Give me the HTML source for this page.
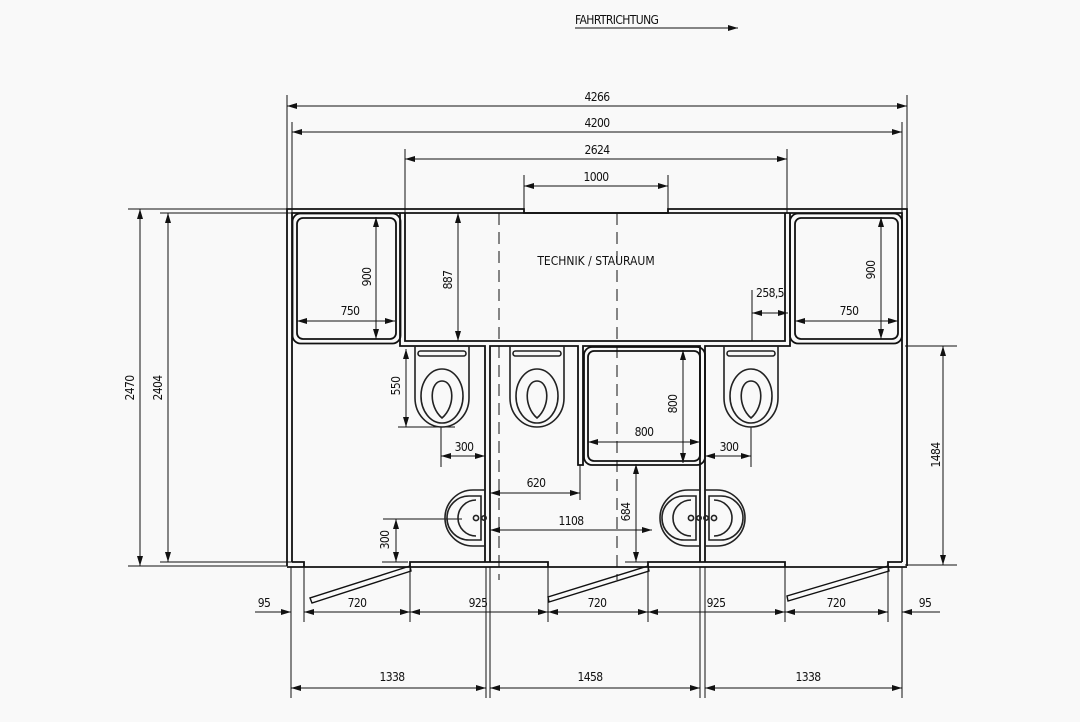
<!DOCTYPE html>
<html><head><meta charset="utf-8"><style>
html,body{margin:0;padding:0;background:#f9f9f9;}
svg{display:block}
text{font-family:"DejaVu Sans Condensed","Liberation Sans",sans-serif;font-size:12px;fill:#111;letter-spacing:-0.6px}
</style></head><body>
<svg width="1080" height="722" viewBox="0 0 1080 722" xmlns="http://www.w3.org/2000/svg">
<defs>
<marker id="a" viewBox="0 0 10 6" refX="10" refY="3" markerWidth="10" markerHeight="6" orient="auto-start-reverse" markerUnits="userSpaceOnUse"><path d="M0,0 L10,3 L0,6z" fill="#111"/></marker>
<g id="wc" fill="none" stroke="#222" stroke-width="1.6">
<path d="M-27,0 V52 A27,29 0 0 0 27,52 V0"/>
<rect x="-24" y="5" width="48" height="5" rx="2.5"/>
<ellipse cx="0" cy="50" rx="21" ry="27"/>
<path d="M0,72 C-14,60 -12,35 0,35 C12,35 14,60 0,72z"/>
</g>
<g id="sk" fill="none" stroke="#222" stroke-width="1.6">
<path d="M0,-28 H-12 A28,28 0 0 0 -12,28 H0"/>
<path d="M-4,-22 H-16 A22,22 0 0 0 -16,22 H-4 Z"/>
<path d="M-27,0 A18,18 0 0 1 -9,-18 M-9,18 A18,18 0 0 1 -27,0"/>
<circle cx="-9" cy="0" r="2.6"/><circle cx="-1" cy="0" r="2.2"/>
</g>
</defs>
<g stroke="#111" stroke-width="1" fill="none">
<!-- title -->
<line x1="575" y1="28" x2="738" y2="28" marker-end="url(#a)"/>
<!-- top dims -->
<line x1="287" y1="95" x2="287" y2="209"/><line x1="907" y1="95" x2="907" y2="209"/>
<line x1="287" y1="106" x2="907" y2="106" marker-start="url(#a)" marker-end="url(#a)"/>
<line x1="292" y1="122" x2="292" y2="213"/><line x1="902" y1="122" x2="902" y2="213"/>
<line x1="292" y1="132" x2="902" y2="132" marker-start="url(#a)" marker-end="url(#a)"/>
<line x1="405" y1="149" x2="405" y2="213"/><line x1="787" y1="149" x2="787" y2="213"/>
<line x1="405" y1="159" x2="787" y2="159" marker-start="url(#a)" marker-end="url(#a)"/>
<line x1="524" y1="175" x2="524" y2="213"/><line x1="668" y1="175" x2="668" y2="213"/>
<line x1="524" y1="186" x2="668" y2="186" marker-start="url(#a)" marker-end="url(#a)"/>
<!-- left dims -->
<line x1="128" y1="209" x2="287" y2="209"/><line x1="128" y1="566" x2="287" y2="566"/>
<line x1="140" y1="209" x2="140" y2="566" marker-start="url(#a)" marker-end="url(#a)"/>
<line x1="160" y1="213" x2="292" y2="213"/><line x1="160" y1="562" x2="292" y2="562"/>
<line x1="168" y1="213" x2="168" y2="562" marker-start="url(#a)" marker-end="url(#a)"/>
<!-- right 1484 -->
<line x1="905" y1="346" x2="957" y2="346"/><line x1="905" y1="565" x2="957" y2="565"/>
<line x1="943" y1="346" x2="943" y2="565" marker-start="url(#a)" marker-end="url(#a)"/>
<!-- inner dims -->
<line x1="376" y1="217" x2="376" y2="339" marker-start="url(#a)" marker-end="url(#a)"/>
<line x1="297" y1="321" x2="395" y2="321" marker-start="url(#a)" marker-end="url(#a)"/>
<line x1="458" y1="213" x2="458" y2="341" marker-start="url(#a)" marker-end="url(#a)"/>
<line x1="752" y1="290" x2="752" y2="341"/>
<line x1="752" y1="313" x2="788" y2="313" marker-start="url(#a)" marker-end="url(#a)"/>
<line x1="881" y1="217" x2="881" y2="339" marker-start="url(#a)" marker-end="url(#a)"/>
<line x1="795" y1="321" x2="898" y2="321" marker-start="url(#a)" marker-end="url(#a)"/>
<line x1="406" y1="349" x2="406" y2="427" marker-start="url(#a)" marker-end="url(#a)"/>
<line x1="398" y1="427" x2="455" y2="427"/>
<line x1="441" y1="427" x2="441" y2="467"/>
<line x1="441" y1="456" x2="485" y2="456" marker-start="url(#a)" marker-end="url(#a)"/>
<line x1="683" y1="350" x2="683" y2="463" marker-start="url(#a)" marker-end="url(#a)"/>
<line x1="588" y1="442" x2="700" y2="442" marker-start="url(#a)" marker-end="url(#a)"/>
<line x1="751" y1="427" x2="751" y2="467"/>
<line x1="705" y1="456" x2="751" y2="456" marker-start="url(#a)" marker-end="url(#a)"/>
<line x1="580" y1="465" x2="580" y2="500"/>
<line x1="490" y1="493" x2="580" y2="493" marker-start="url(#a)" marker-end="url(#a)"/>
<line x1="490" y1="530" x2="652" y2="530" marker-start="url(#a)" marker-end="url(#a)"/>
<line x1="636" y1="464" x2="636" y2="562" marker-start="url(#a)" marker-end="url(#a)"/>
<line x1="383" y1="519" x2="462" y2="519"/>
<line x1="396" y1="519" x2="396" y2="562" marker-start="url(#a)" marker-end="url(#a)"/>
<line x1="625" y1="562" x2="665" y2="562"/>
<line x1="382" y1="562" x2="408" y2="562"/>
<!-- bottom dims -->
<line x1="304" y1="567" x2="304" y2="622"/><line x1="410" y1="567" x2="410" y2="622"/>
<line x1="548" y1="567" x2="548" y2="622"/><line x1="648" y1="567" x2="648" y2="622"/>
<line x1="785" y1="567" x2="785" y2="622"/><line x1="888" y1="567" x2="888" y2="622"/>
<line x1="291" y1="567" x2="291" y2="698"/><line x1="902" y1="567" x2="902" y2="698"/>
<line x1="486" y1="567" x2="486" y2="698"/><line x1="490" y1="567" x2="490" y2="698"/>
<line x1="700" y1="567" x2="700" y2="698"/><line x1="705" y1="567" x2="705" y2="698"/>
<line x1="255" y1="612" x2="291" y2="612" marker-end="url(#a)"/>
<line x1="304" y1="612" x2="410" y2="612" marker-start="url(#a)" marker-end="url(#a)"/>
<line x1="410" y1="612" x2="548" y2="612" marker-start="url(#a)" marker-end="url(#a)"/>
<line x1="548" y1="612" x2="648" y2="612" marker-start="url(#a)" marker-end="url(#a)"/>
<line x1="648" y1="612" x2="785" y2="612" marker-start="url(#a)" marker-end="url(#a)"/>
<line x1="785" y1="612" x2="888" y2="612" marker-start="url(#a)" marker-end="url(#a)"/>
<line x1="940" y1="612" x2="902" y2="612" marker-end="url(#a)"/>
<line x1="291" y1="688" x2="486" y2="688" marker-start="url(#a)" marker-end="url(#a)"/>
<line x1="490" y1="688" x2="700" y2="688" marker-start="url(#a)" marker-end="url(#a)"/>
<line x1="705" y1="688" x2="902" y2="688" marker-start="url(#a)" marker-end="url(#a)"/>
<!-- dashed -->
<line x1="499" y1="213" x2="499" y2="580" stroke-dasharray="12,7"/>
<line x1="617" y1="213" x2="617" y2="580" stroke-dasharray="12,7"/>
</g>
<!-- walls -->
<g stroke="#111" stroke-width="1.8" fill="none">
<path d="M287,566 V209 H524 V213 H668 V209 H907 V566"/>
<path d="M292,562 V213 H902 V562"/>
<line x1="287" y1="567" x2="907" y2="567"/>
<path d="M292,562 H304 V567"/><path d="M410,567 V562 H548 V567"/><path d="M648,567 V562 H785 V567"/><path d="M888,567 V562 H902"/>
<!-- technik room -->
<path d="M400,213 V346 H485 V562 M490,562 V346 H578 V465 H583 V346 H700 V562 M705,562 V346 H790 V213"/>
<path d="M405,213 V341 H785 V213"/>
<!-- showers -->
<rect x="292.5" y="213.5" width="108" height="130" rx="8"/>
<rect x="297" y="218" width="99" height="121" rx="6"/>
<rect x="790" y="213.5" width="112" height="130" rx="8"/>
<rect x="795" y="218" width="103" height="121" rx="6"/>
<rect x="584" y="347" width="121" height="118" rx="8"/>
<rect x="588" y="351" width="112" height="110" rx="6"/>
<!-- doors -->
<path d="M410,566 L310,598 L312,603 L411,571z" stroke-width="1.4"/>
<path d="M648,566 L548,597 L549,602 L649,571z" stroke-width="1.4"/>
<path d="M888,566 L787,596 L788,601 L889,571z" stroke-width="1.4"/>
</g>
<use href="#wc" x="442" y="346"/>
<use href="#wc" x="537" y="346"/>
<use href="#wc" x="751" y="346"/>
<use href="#sk" x="485" y="518"/>
<use href="#sk" x="700" y="518"/>
<use href="#sk" transform="translate(705,518) scale(-1,1)"/>
<!-- labels -->
<text x="575" y="24">FAHRTRICHTUNG</text>
<g text-anchor="middle">
<text x="597" y="101">4266</text>
<text x="597" y="127">4200</text>
<text x="597" y="154">2624</text>
<text x="596" y="181">1000</text>
<text x="596" y="265" style="letter-spacing:0">TECHNIK / STAURAUM</text>
<text x="350" y="315">750</text>
<text x="849" y="315">750</text>
<text x="770" y="297">258,5</text>
<text x="464" y="451">300</text>
<text x="729" y="451">300</text>
<text x="644" y="436">800</text>
<text x="536" y="487">620</text>
<text x="571" y="525">1108</text>
<text x="264" y="607">95</text>
<text x="357" y="607">720</text>
<text x="478" y="607">925</text>
<text x="597" y="607">720</text>
<text x="716" y="607">925</text>
<text x="836" y="607">720</text>
<text x="925" y="607">95</text>
<text x="392" y="681">1338</text>
<text x="590" y="681">1458</text>
<text x="808" y="681">1338</text>
<text transform="translate(134,388) rotate(-90)">2470</text>
<text transform="translate(162,388) rotate(-90)">2404</text>
<text transform="translate(371,277) rotate(-90)">900</text>
<text transform="translate(452,280) rotate(-90)">887</text>
<text transform="translate(875,270) rotate(-90)">900</text>
<text transform="translate(400,386) rotate(-90)">550</text>
<text transform="translate(677,404) rotate(-90)">800</text>
<text transform="translate(630,512) rotate(-90)">684</text>
<text transform="translate(389,540) rotate(-90)">300</text>
<text transform="translate(940,455) rotate(-90)">1484</text>
</g>
</svg>
</body></html>
